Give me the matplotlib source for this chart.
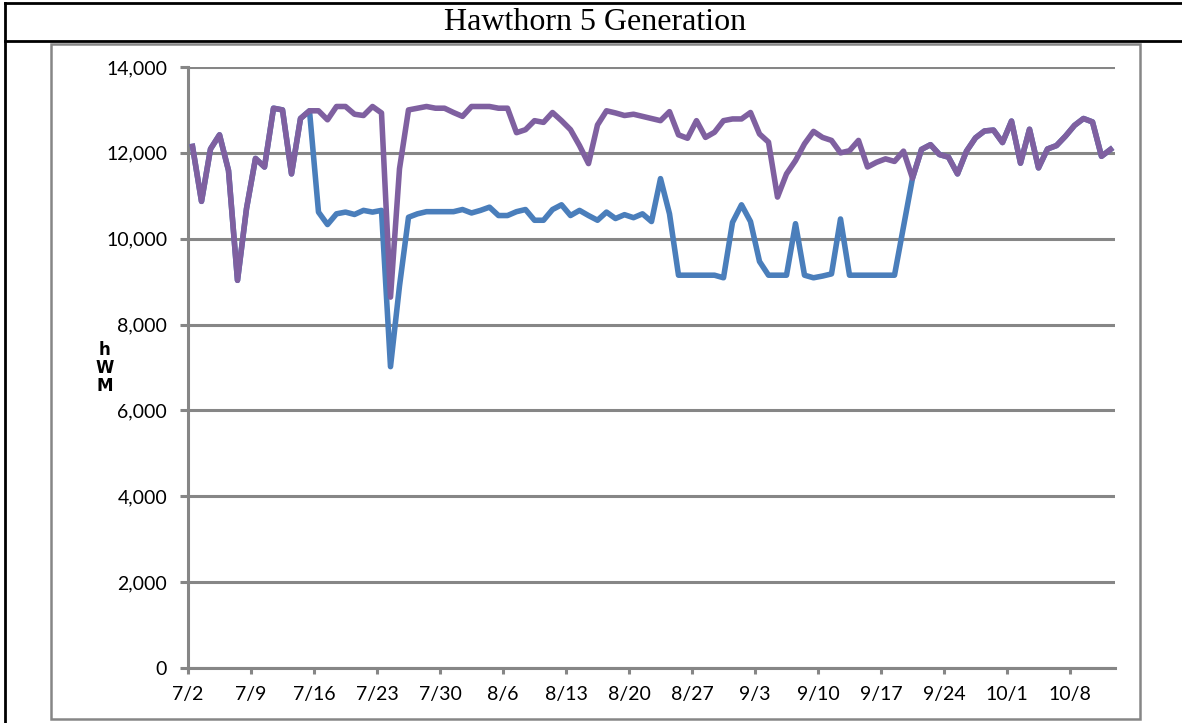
import numpy as np
import matplotlib.pyplot as plt
from matplotlib.lines import Line2D
from matplotlib.patches import Rectangle
from matplotlib.ticker import FuncFormatter

# Daily generation (MWh), 7/2 through 10/12
purple = [12150, 10870, 12090, 12420, 11590, 9030, 10700, 11870, 11670, 13040,
          13000, 11510, 12800, 12980, 12980, 12770, 13080, 13080, 12900, 12870,
          13080, 12930, 8640, 11630, 13000, 13040, 13080, 13040, 13040, 12940,
          12850, 13080, 13080, 13080, 13040, 13040, 12470, 12540, 12750, 12710,
          12940, 12750, 12540, 12170, 11750, 12650, 12980, 12930, 12870, 12900,
          12850, 12800, 12750, 12960, 12420, 12340, 12750, 12360, 12480, 12750,
          12790, 12790, 12940, 12440, 12250, 10970, 11510, 11820, 12210, 12500,
          12360, 12290, 12000, 12050, 12290, 11670, 11780, 11860, 11800, 12040,
          11410, 12080, 12190, 11960, 11900, 11510, 12040, 12350, 12510, 12530,
          12240, 12740, 11760, 12550, 11650, 12090, 12170, 12390, 12640, 12800,
          12720, 11920, 12080]

blue = [12150, 10870, 12090, 12420, 11590, 9030, 10700, 11870, 11670, 13040,
        13000, 11510, 12800, 12980, 10620, 10330, 10580, 10620, 10565, 10660,
        10620, 10660, 7020, 8900, 10500, 10580, 10630, 10630, 10630, 10630,
        10680, 10600, 10660, 10735, 10540, 10540, 10630, 10680, 10430, 10430,
        10680, 10790, 10540, 10660, 10540, 10430, 10620, 10470, 10560, 10490,
        10580, 10400, 11400, 10580, 9150, 9150, 9150, 9150, 9150, 9090,
        10380, 10790, 10400, 9470, 9150, 9150, 9150, 10350, 9150, 9090,
        9130, 9180, 10460, 9150, 9150, 9150, 9150, 9150, 9150, 10280,
        11410, 12080, 12190, 11960, 11900, 11510, 12040, 12350, 12510, 12530,
        12240, 12740, 11760, 12550, 11650, 12090, 12170, 12390, 12640, 12800,
        12720, 11920, 12080]

tick_labels = ['7/2', '7/9', '7/16', '7/23', '7/30', '8/6', '8/13', '8/20',
               '8/27', '9/3', '9/10', '9/17', '9/24', '10/1', '10/8']
title = 'Hawthorn 5 Generation'

# points sit in the middle of each day, ticks on day boundaries
days = np.arange(len(purple)) + 0.5
grey = '#868686'

W, H = 1182, 723
fig = plt.figure(figsize=(W / 100, H / 100), dpi=100)
ax = fig.add_axes([188 / W, (H - 668) / H, (1115 - 188) / W, (668 - 67) / H])

ax.plot(days, blue, color='#4A7EBB', lw=4, solid_joinstyle='round', zorder=3)
ax.plot(days, purple, color='#7F60A0', lw=4, solid_joinstyle='round', zorder=4)

ax.set_xlim(0, len(purple))
ax.set_ylim(0, 14000)
ax.set_xticks(np.arange(0, 7 * len(tick_labels), 7))
ax.set_xticklabels(tick_labels)
ax.set_yticks(np.arange(0, 14001, 2000))
ax.yaxis.set_major_formatter(FuncFormatter(lambda v, p: f'{int(v):,}'))
ax.grid(axis='y', color=grey, lw=2.2, zorder=1)
ax.set_axisbelow(True)

for s in ['top', 'right']:
    ax.spines[s].set_visible(False)
for s in ['left', 'bottom']:
    ax.spines[s].set_color(grey)
    ax.spines[s].set_linewidth(2.2)
    ax.spines[s].set_zorder(2)

ax.tick_params(axis='y', length=6, width=2.2, color=grey, pad=9)
ax.tick_params(axis='x', length=4, width=2.2, color=grey, pad=9)
for lab in ax.get_xticklabels() + ax.get_yticklabels():
    lab.set_fontfamily('Lato')
    lab.set_fontsize(14)

# bold stacked axis label
fig.text(105 / W, 1 - 368 / H, 'h\nW\nM', ha='center', va='center',
         fontfamily='DejaVu Sans', fontweight='bold', fontsize=12, linespacing=1.0)

# title cell and frame lines
fig.text(595 / W, 1 - 23 / H, title, ha='center', va='center',
         fontfamily='Liberation Serif', fontsize=23)
fig.add_artist(Line2D([5 / W, 1], [1 - 3 / H, 1 - 3 / H], color='black', lw=2,
                      transform=fig.transFigure))
fig.add_artist(Line2D([5 / W, 1], [1 - 41 / H, 1 - 41 / H], color='black', lw=2,
                      transform=fig.transFigure))
fig.add_artist(Line2D([5 / W, 5 / W], [0, 1 - 3 / H], color='black', lw=2,
                      transform=fig.transFigure))
fig.add_artist(Rectangle((51 / W, 1 - 719 / H), (1140 - 51) / W, (719 - 44) / H,
                         fill=False, edgecolor=grey, lw=1.8, transform=fig.transFigure))

plt.savefig('out.png', dpi=100)
